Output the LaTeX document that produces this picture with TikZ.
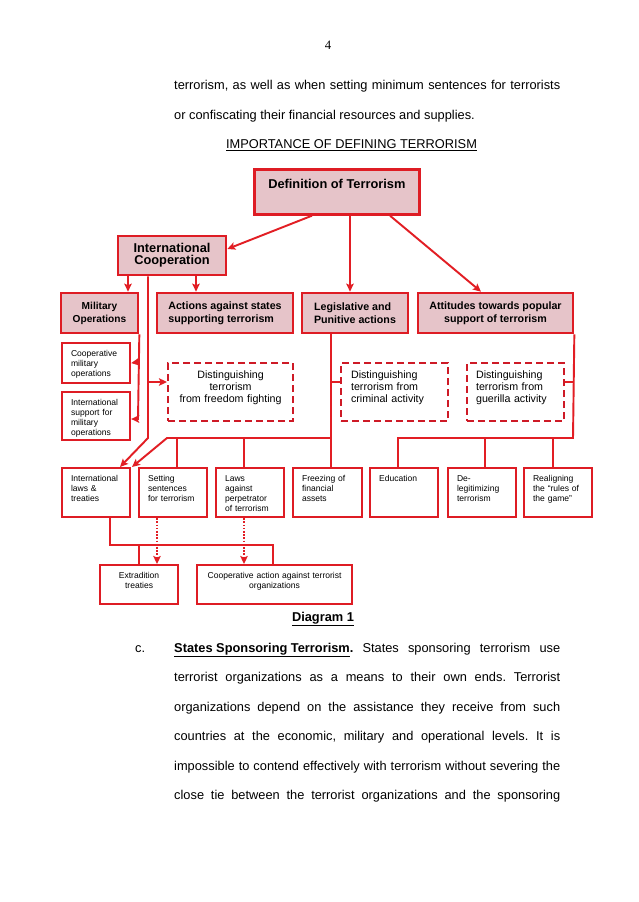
\documentclass[tikz,border=0pt]{standalone}
\usepackage{fontspec}
\setmainfont{Liberation Sans}
\newfontfamily\pagenumfont{Liberation Serif}
\usepackage{tikz}
\usetikzlibrary{arrows.meta}
\definecolor{boxred}{RGB}{222,28,36}
\definecolor{boxpink}{RGB}{230,196,201}
\definecolor{dashred}{RGB}{206,26,38}
\definecolor{linkred}{RGB}{226,30,36}
\newlength{\pix}
\setlength{\pix}{0.032915cm}
\frenchspacing
\begin{document}
\begin{tikzpicture}[x=0.032915cm,y=-0.032915cm,>={Stealth[length=7.5pt,width=7pt,inset=1.5pt]},
  head/.style={draw=boxred,fill=boxpink,line width=2.5pt,inner sep=0pt,align=center,font=\bfseries\fontsize{12}{11.5}\selectfont},
  sub/.style={draw=boxred,fill=boxpink,line width=2.5pt,inner sep=0pt,align=center,font=\bfseries\fontsize{10}{12.2}\selectfont},
  leaf/.style={draw=boxred,line width=2pt,anchor=north west,inner ysep=0pt,inner xsep=9\pix,text width=50\pix,align=left,text height=13\pix,font=\fontsize{8}{9.4}\selectfont},
  idea/.style={draw=dashred,line width=2pt,dash pattern=on 7\pix off 4\pix,anchor=north west,inner ysep=0pt,text height=15\pix,text depth=43\pix,font=\fontsize{10}{11.4}\selectfont},
  trunk/.style={draw=linkred,line width=1.8pt},
  dotline/.style={trunk,dash pattern=on 1.6pt off 1.4pt},
  bodytext/.style={font=\fontsize{12}{14}\selectfont,anchor=base west,inner sep=0pt}]
\useasboundingbox (0,0) rectangle (638,902);
\fill[white] (0,0) rectangle (638,902);

% page text above
\node[font=\pagenumfont\fontsize{12}{14}\selectfont,anchor=base,inner sep=0pt] (pg) at (328,50) {4};
\node[bodytext] (t1) at (174,90) {\makebox[386\pix][s]{terrorism, as well as when setting minimum sentences for terrorists}};
\node[bodytext] (t2) at (174,120) {or confiscating their financial resources and supplies.};
\node[bodytext,anchor=base] (t3) at (351.5,149) {\underline{IMPORTANCE OF DEFINING TERRORISM}};

% boxes
\node[head,anchor=north west,minimum width=165\pix,text height=19\pix,text depth=26\pix] (A) at (253,168) {Definition of Terrorism};
\node[head,minimum width=108\pix,minimum height=39\pix] (B) at (172,255.5) {International\\Cooperation};
\node[sub,minimum width=77\pix,minimum height=40\pix,font=\bfseries\fontsize{9.5}{12.2}\selectfont] (C) at (99.5,313) {Military\\Operations};
\node[sub,align=left,minimum width=136\pix,minimum height=40\pix] (D) at (225,313) {Actions against states\\supporting terrorism};
\node[sub,align=left,minimum width=106\pix,minimum height=40\pix] (E) at (355,313) {Legislative and\\Punitive actions};
\node[sub,minimum width=155\pix,minimum height=40\pix] (F) at (495.5,313) {Attitudes towards popular\\support of terrorism};

\node[leaf,text depth=27\pix] (G) at (61,342) {Cooperative\\military\\operations};
\node[leaf,text depth=35\pix] (H) at (61,391) {International\\support for\\military\\operations};

\node[idea,align=center,inner xsep=5\pix,text width=115\pix] (I) at (167,362) {Distinguishing\\terrorism\\from freedom fighting};
\node[idea,align=left,inner xsep=10\pix,text width=87\pix] (J) at (340,362) {Distinguishing\\terrorism from\\criminal activity};
\node[idea,align=left,inner xsep=9\pix,text width=79\pix] (K) at (466,362) {Distinguishing\\terrorism from\\guerilla activity};

\node[leaf,text depth=36\pix] (L) at (61,467) {International\\laws \&\\treaties};
\node[leaf,text depth=36\pix] (M) at (138,467) {Setting\\sentences\\for terrorism};
\node[leaf,text depth=36\pix] (N) at (215,467) {Laws\\against\\perpetrator\\of terrorism};
\node[leaf,text depth=36\pix,text width=51\pix] (O) at (292,467) {Freezing of\\financial\\assets};
\node[leaf,text depth=36\pix] (P) at (369,467) {Education};
\node[leaf,text depth=36\pix] (Q) at (447,467) {De-\\legitimizing\\terrorism};
\node[leaf,text depth=36\pix] (R) at (523,467) {Realigning\\the “rules of\\the game”};

\node[leaf,align=center,inner xsep=4\pix,text width=70\pix,text height=13.5\pix,text depth=25.5\pix] (S) at (99,564) {Extradition\\treaties};
\node[leaf,align=center,inner xsep=4\pix,text width=147\pix,text height=13.5\pix,text depth=25.5\pix] (T) at (196,564) {Cooperative action against terrorist\\organizations};

% junctions
\coordinate (b1) at (148,382);
\coordinate (b2) at (148,438);
\coordinate (c1) at (138,362);
\coordinate (e1) at (331,382);
\coordinate (e2) at (331,438);
\coordinate (e3) at (167,438);
\coordinate (f1) at (573,382);
\coordinate (f2) at (573,438);
\coordinate (l1) at (110,545);
\coordinate (l2) at (273,545);

% connectors
\draw[->,trunk] (A.south -| 312,0) -- (B.east |- 0,249);
\draw[->,trunk] (A.south -| 350,0) -- (E.north -| 350,0);
\draw[->,trunk] (A.south -| 390,0) -- (F.north -| 481,0);
\draw[->,trunk] (B.south -| 128,0) -- (C.north -| 128,0);
\draw[->,trunk] (B.south -| 196,0) -- (D.north -| 196,0);
\draw[->,trunk] (B.south -| b1) -- (b2) -- (L.north -| 120,0);
\draw[->,trunk] (b1) -- (I.west |- b1);
\draw[->,trunk] (C.south east) -- (138,419) -- (H.east |- 0,419);
\draw[->,trunk] (c1) -- (G.east);
\draw[trunk] (E.south -| e1) -- (O.north -| e1);
\draw[trunk] (e1) -- (J.west |- e1);
\draw[->,trunk] (e2) -- (e3) -- (L.north -| 132,0);
\draw[trunk] (M.north -| 177,0) -- (e2 -| 177,0);
\draw[trunk] (N.north -| 244,0) -- (e2 -| 244,0);
\draw[trunk] (F.south east) -- (f2) -- (f2 -| 398,0) -- (P.north -| 398,0);
\draw[trunk] (f1) -- (K.east |- f1);
\draw[trunk] (f2 -| 485,0) -- (Q.north -| 485,0);
\draw[trunk] (f2 -| 553,0) -- (R.north -| 553,0);
\draw[trunk] (L.south -| l1) -- (l1) -- (l2) -- (T.north -| l2);
\draw[trunk] (S.north |- l1) -- (S.north);
\draw[->,dotline] (M.south -| 157,0) -- (S.north -| 157,0);
\draw[->,dotline] (N.south -| 244,0) -- (T.north -| 244,0);

% page text below
\node[bodytext,anchor=base,font=\bfseries\fontsize{12}{14}\selectfont] (cap) at (323,621) {\underline{Diagram 1}};
\node[bodytext] (c) at (135,652) {c.};
\node[bodytext] (p1) at (174,652) {\makebox[386\pix][s]{\underline{\textbf{States Sponsoring Terrorism}}\textbf{.} States sponsoring terrorism use}};
\node[bodytext] (p2) at (174,681.5) {\makebox[386\pix][s]{terrorist organizations as a means to their own ends. Terrorist}};
\node[bodytext] (p3) at (174,711) {\makebox[386\pix][s]{organizations depend on the assistance they receive from such}};
\node[bodytext] (p4) at (174,740.5) {\makebox[386\pix][s]{countries at the economic, military and operational levels. It is}};
\node[bodytext] (p5) at (174,770) {\makebox[386\pix][s]{impossible to contend effectively with terrorism without severing the}};
\node[bodytext] (p6) at (174,799.5) {\makebox[386\pix][s]{close tie between the terrorist organizations and the sponsoring}};
\end{tikzpicture}
\end{document}
